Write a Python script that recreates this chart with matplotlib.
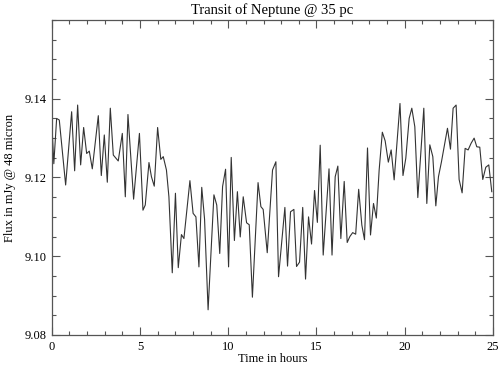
import matplotlib
matplotlib.use("Agg")

import matplotlib.pyplot as plt
from matplotlib.ticker import MultipleLocator, FixedLocator

# time (hours) and flux (mJy)
hours = [
    0.00, 0.12, 0.28, 0.43, 0.79, 1.13, 1.30, 1.47, 1.64, 1.81,
    1.98, 2.13, 2.30, 2.64, 2.81, 2.98, 3.15, 3.32, 3.49, 3.77,
    4.00, 4.17, 4.32, 4.64, 4.97, 5.17, 5.30, 5.51, 5.65, 5.81,
    6.00, 6.18, 6.32, 6.50, 6.64, 6.83, 7.01, 7.17, 7.35, 7.49,
    7.83, 8.01, 8.17, 8.34, 8.50, 8.66, 8.86, 9.19, 9.35, 9.52,
    9.68, 9.85, 10.02, 10.17, 10.35, 10.52, 10.68, 10.85, 11.04, 11.19,
    11.37, 11.69, 11.85, 11.98, 12.21, 12.51, 12.70, 12.85, 13.21, 13.36,
    13.53, 13.72, 13.87, 14.04, 14.22, 14.38, 14.55, 14.72, 14.89, 15.05,
    15.21, 15.38, 15.71, 15.88, 16.06, 16.21, 16.38, 16.57, 16.74, 16.89,
    17.05, 17.22, 17.39, 17.57, 17.72, 17.89, 18.06, 18.23, 18.39, 18.55,
    18.73, 18.89, 19.07, 19.23, 19.40, 19.73, 19.90, 20.06, 20.25, 20.40,
    20.57, 20.74, 21.08, 21.25, 21.42, 21.59, 21.76, 21.91, 22.08, 22.42,
    22.59, 22.74, 22.91, 23.08, 23.25, 23.42, 23.59, 23.76, 23.93, 24.08,
    24.25, 24.42, 24.59, 24.76, 24.93,
]
flux = [
    9.1345, 9.1235, 9.1350, 9.1346, 9.1181, 9.1367, 9.1217, 9.1384, 9.1232, 9.1327,
    9.1261, 9.1267, 9.1222, 9.1357, 9.1205, 9.1308, 9.1188, 9.1376, 9.1257, 9.1242,
    9.1312, 9.1151, 9.1360, 9.1145, 9.1312, 9.1117, 9.1130, 9.1238, 9.1202, 9.1178,
    9.1327, 9.1246, 9.1253, 9.1219, 9.1151, 9.0958, 9.1160, 9.0971, 9.1055, 9.1045,
    9.1192, 9.1109, 9.1100, 9.0973, 9.1175, 9.1094, 9.0864, 9.1156, 9.1130, 9.1007,
    9.1177, 9.1221, 9.0973, 9.1251, 9.1040, 9.1164, 9.1049, 9.1151, 9.1085, 9.1080,
    9.0896, 9.1187, 9.1126, 9.1119, 9.1009, 9.1219, 9.1240, 9.0948, 9.1124, 9.0975,
    9.1113, 9.1119, 9.0974, 9.0985, 9.1124, 9.0942, 9.1100, 9.1031, 9.1167, 9.1086,
    9.1282, 9.1003, 9.1222, 9.1003, 9.1202, 9.1229, 9.1045, 9.1190, 9.1035, 9.1050,
    9.1060, 9.1056, 9.1170, 9.1079, 9.1042, 9.1275, 9.1054, 9.1134, 9.1097, 9.1219,
    9.1315, 9.1293, 9.1239, 9.1270, 9.1194, 9.1388, 9.1205, 9.1249, 9.1350, 9.1376,
    9.1329, 9.1149, 9.1376, 9.1134, 9.1283, 9.1253, 9.1128, 9.1202, 9.1240, 9.1325,
    9.1272, 9.1376, 9.1384, 9.1195, 9.1161, 9.1274, 9.1270, 9.1287, 9.1300, 9.1278,
    9.1277, 9.1195, 9.1226, 9.1232, 9.1164,
]
y_ticks = [9.08, 9.10, 9.12, 9.14]

plt.rcParams["font.family"] = ["Liberation Serif", "DejaVu Serif"]

fig = plt.figure(figsize=(4.99, 3.67), dpi=100)
ax = fig.add_axes([0.1036, 0.0872, 0.8844, 0.8583])

ax.plot(hours, flux, color="#333333", linewidth=0.8)

ax.set_xlim(0, 25)
ax.set_ylim(9.08, 9.16)
ax.xaxis.set_major_locator(MultipleLocator(5))
ax.xaxis.set_minor_locator(MultipleLocator(1))
ax.yaxis.set_major_locator(FixedLocator(y_ticks))
ax.yaxis.set_minor_locator(MultipleLocator(0.005))
ax.yaxis.set_major_formatter(plt.FormatStrFormatter("%.2f"))

ax.tick_params(which="both", direction="in", top=True, right=True,
               color="#555555", labelsize=9, pad=4)
ax.tick_params(which="major", length=6, width=0.8)
ax.tick_params(which="minor", length=3, width=0.8)
for s in ax.spines.values():
    s.set_color("#555555")
    s.set_linewidth(0.9)

ax.set_title("Transit of Neptune @ 35 pc", fontsize=10.5, pad=4)
ax.set_xlabel("Time in hours", fontsize=9, labelpad=0)
ax.set_ylabel("Flux in mJy @ 48 micron", fontsize=9, labelpad=6)

plt.savefig("out.png", dpi=100)
plt.close()
